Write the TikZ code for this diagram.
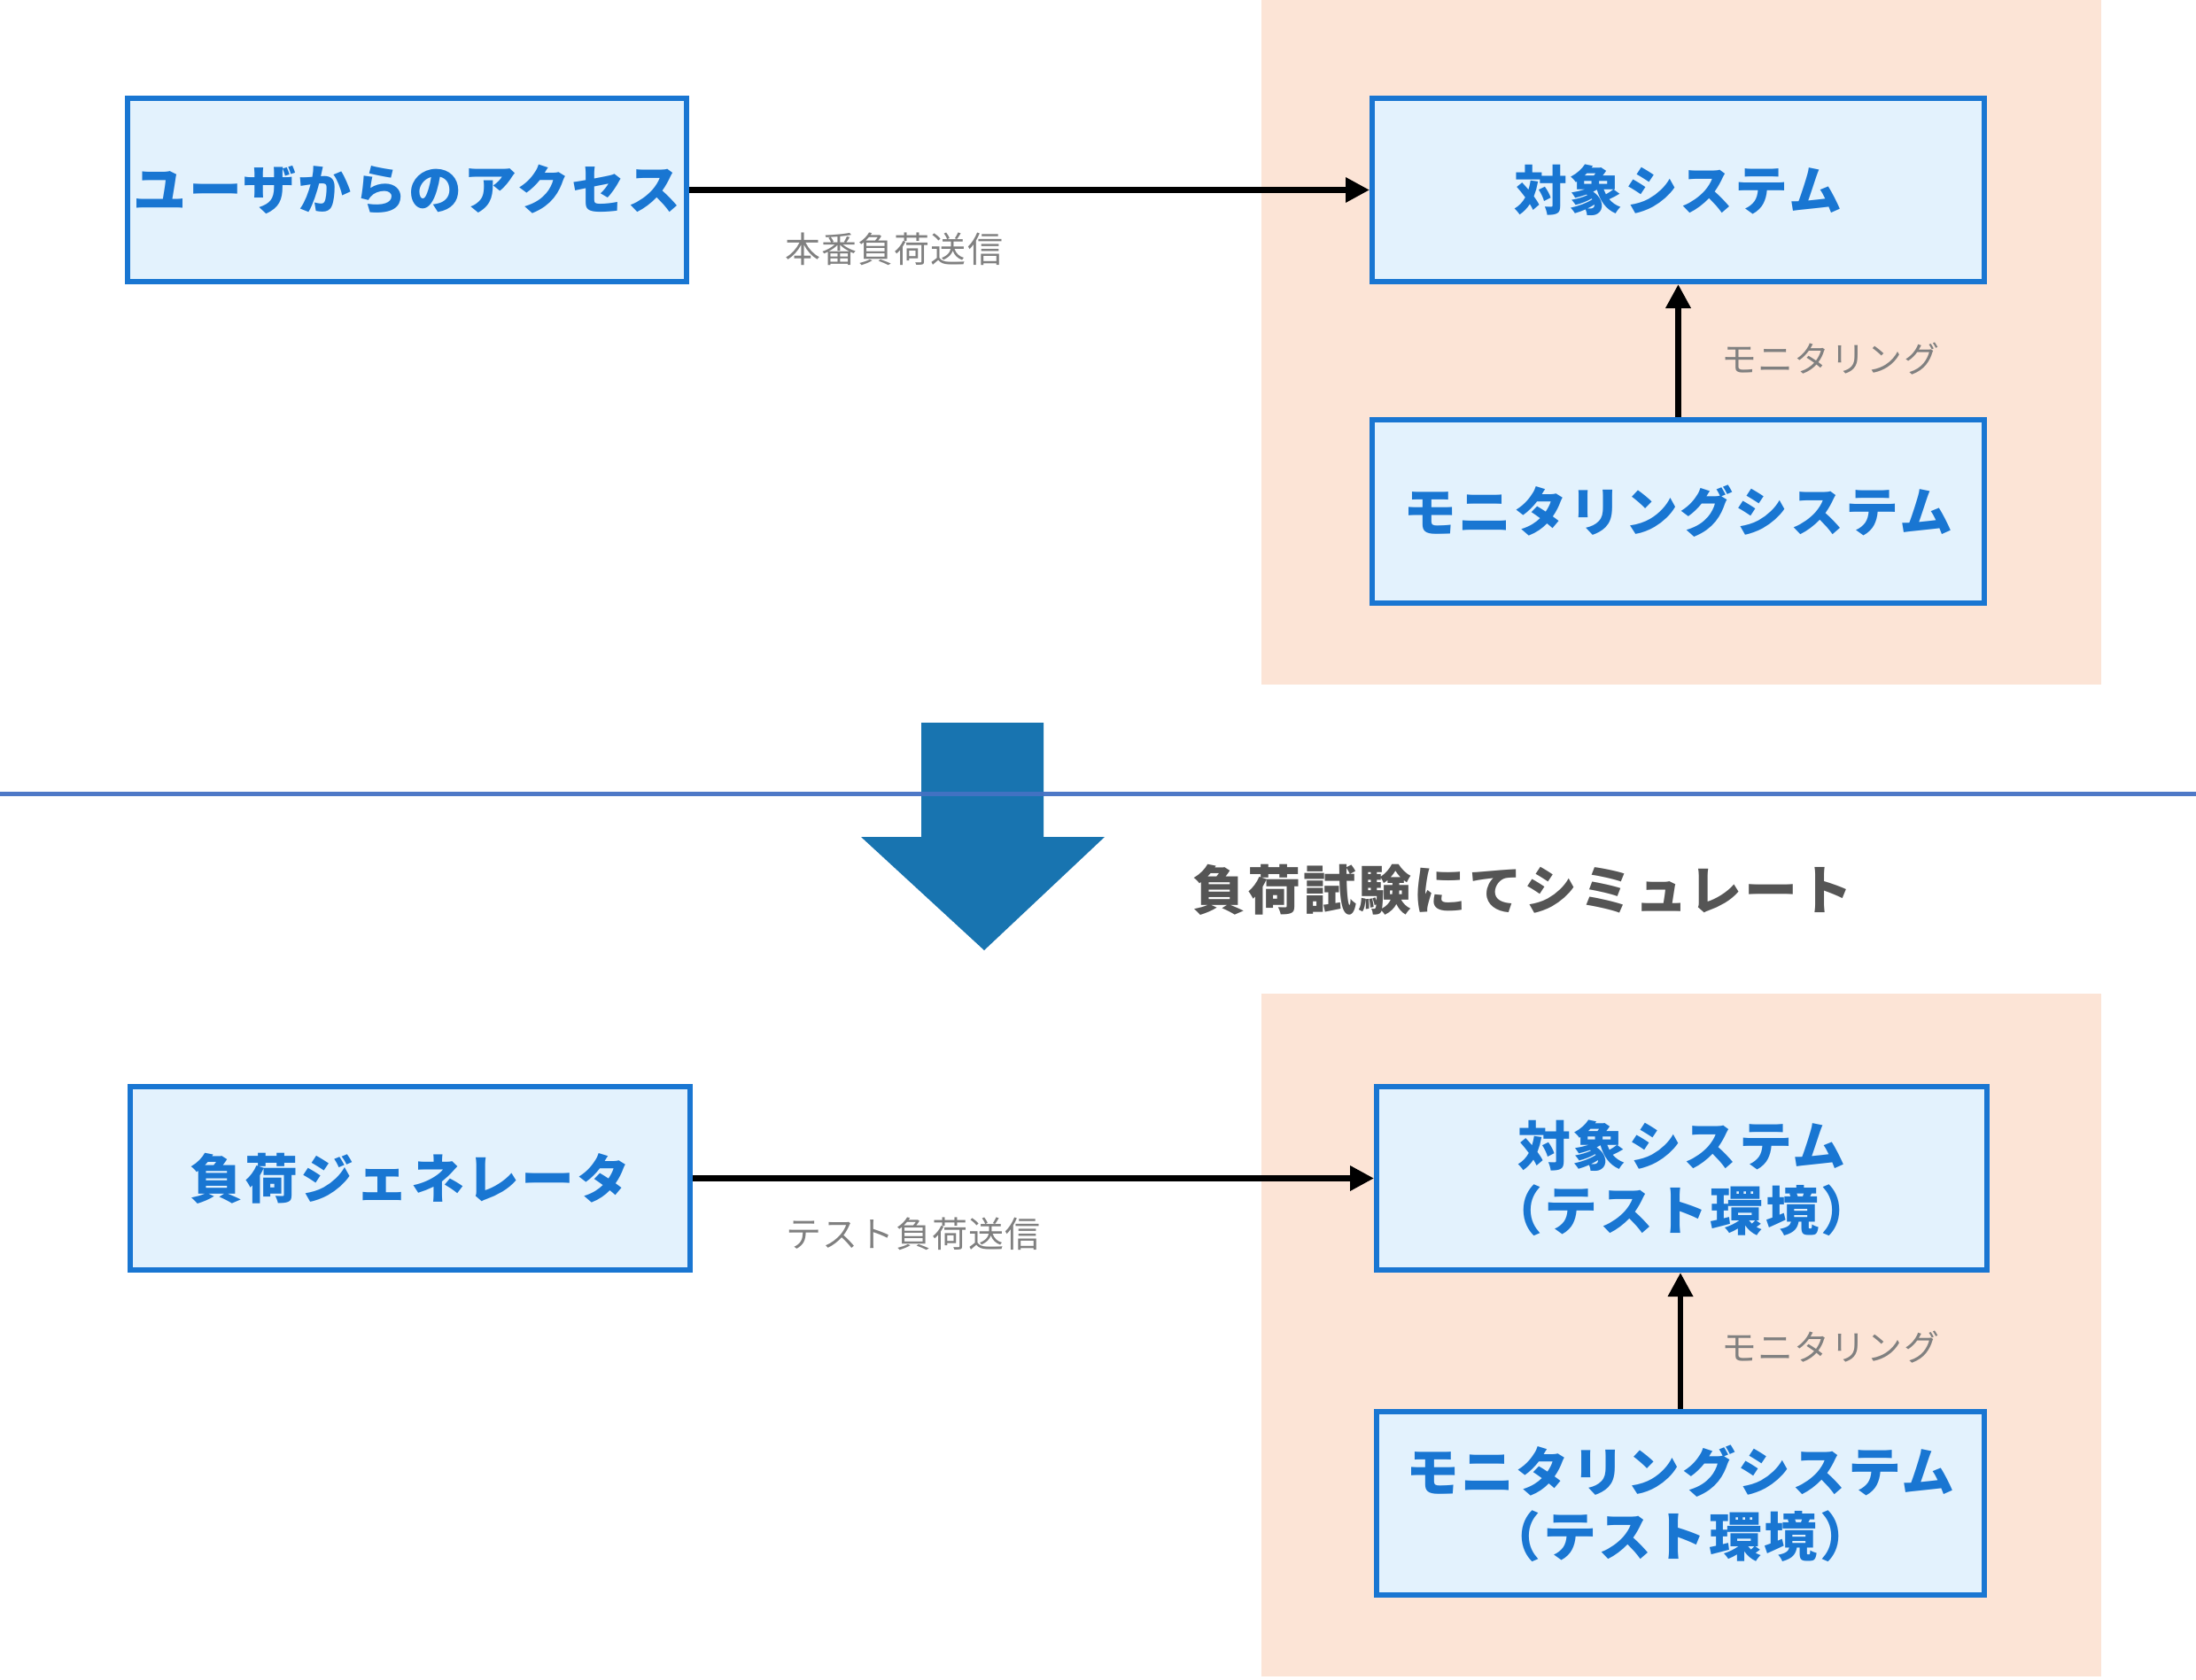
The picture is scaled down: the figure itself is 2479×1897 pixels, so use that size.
\documentclass[tikz,border=0pt]{standalone}
\usepackage{fontspec}
\newfontfamily\cjk{Noto Sans CJK JP}[LetterSpace=4]
\newfontfamily\cjklab{Noto Sans CJK JP}[LetterSpace=3]
\usetikzlibrary{arrows.meta}
\definecolor{boxfill}{HTML}{E3F2FD}
\definecolor{boxline}{HTML}{1976D2}
\definecolor{peach}{HTML}{FCE4D6}
\definecolor{bigarrow}{HTML}{1874B0}
\definecolor{sepline}{HTML}{4472C4}
\definecolor{labelgray}{HTML}{808080}
\definecolor{titlegray}{HTML}{555555}
\begin{document}
\begin{tikzpicture}[x=1pt,y=-1pt,
  sysbox/.style={draw=boxline,fill=boxfill,line width=6pt,minimum width=#1,minimum height=207pt,inner sep=0pt,
    font=\cjk\bfseries\fontsize{60}{73}\selectfont,text=boxline,align=center},
  conn/.style={line width=6.5pt,-{Triangle[length=27pt,width=27pt]}},
  edgelabel/.style={font=\cjklab\fontsize{40}{46}\selectfont,text=labelgray,inner sep=0pt}]
\useasboundingbox (0,0) rectangle (2479,1897);
% peach regions
\fill[peach] (1424,0) rectangle (2372,773);
\fill[peach] (1424,1122) rectangle (2372,1893);
% top row
\node[sysbox=631pt] (user) at (459.5,214.5) {ユーザからのアクセス};
\node[sysbox=691pt] (target1) at (1894.5,214.5) {対象システム};
\node[sysbox=691pt] (mon1) at (1894.5,577.5) {モニタリングシステム};
\draw[conn] (user.east) -- (target1.west);
\draw[conn] (mon1.north) -- (target1.south);
\node[edgelabel] (l1) at (1009,281) {本番負荷送信};
\node[edgelabel] (l2) at (2066,405) {モニタリング};
% big arrow
\fill[bigarrow] (1040,816) -- (1178,816) -- (1178,945) -- (1247,945) -- (1111,1073) -- (972,945) -- (1040,945) -- cycle;
\coordinate (sepL) at (0,896);
\coordinate (sepR) at (2479,896);
\draw[sepline,line width=5pt,opacity=0.95] (sepL) -- (sepR);
\node[font=\cjk\bfseries\fontsize{60}{70}\selectfont,text=titlegray,inner sep=0pt] (title) at (1719,1005) {負荷試験にてシミュレート};
% bottom row
\node[sysbox=632pt] (gen) at (463,1330.5) {負荷ジェネレータ};
\node[sysbox=689pt] (target2) at (1898.5,1330.5) {対象システム\\（テスト環境）};
\node[sysbox=686pt] (mon2) at (1897,1697.5) {モニタリングシステム\\（テスト環境）};
\draw[conn] (gen.east) -- (target2.west);
\draw[conn] (mon2.north) -- (mon2.north |- target2.south);
\node[edgelabel] (l3) at (1031,1393) {テスト負荷送信};
\node[edgelabel] (l4) at (2066,1521) {モニタリング};
\end{tikzpicture}
\end{document}
